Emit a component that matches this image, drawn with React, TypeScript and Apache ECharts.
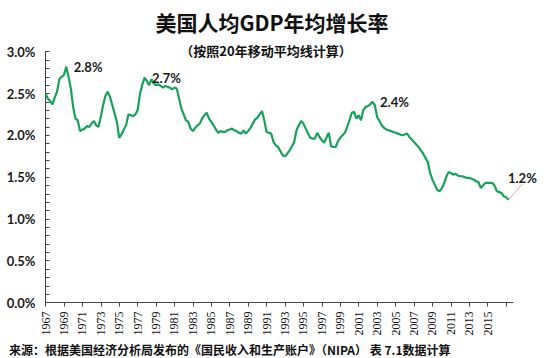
import React, { useEffect, useRef } from "react";
import * as echarts from "echarts";

// Quarterly categories 1967Q1 .. 2017Q4
const startYear = 1967;
const endYear = 2017;
const quarters: string[] = [];
for (let y = startYear; y <= endYear; y++) {
  for (let q = 1; q <= 4; q++) quarters.push(`${y}Q${q}`);
}

// 20-year moving average of per-capita GDP growth (%), quarterly, 1967Q1 .. 2017Q2
const growth: number[] = [
  2.50, 2.44, 2.41, 2.37, 2.45, 2.52, 2.67, 2.70, 2.72, 2.82,
  2.70, 2.56, 2.34, 2.20, 2.18, 2.05, 2.07, 2.08, 2.11, 2.10,
  2.14, 2.17, 2.12, 2.10, 2.22, 2.36, 2.47, 2.52, 2.46, 2.36,
  2.26, 2.16, 1.97, 2.01, 2.07, 2.12, 2.25, 2.24, 2.23, 2.25,
  2.30, 2.49, 2.60, 2.69, 2.65, 2.60, 2.67, 2.62, 2.60, 2.61,
  2.59, 2.57, 2.59, 2.58, 2.57, 2.55, 2.57, 2.56, 2.44, 2.32,
  2.25, 2.18, 2.16, 2.08, 2.05, 2.09, 2.12, 2.14, 2.20, 2.24,
  2.27, 2.20, 2.16, 2.12, 2.07, 2.03, 2.05, 2.04, 2.04, 2.06,
  2.07, 2.08, 2.06, 2.05, 2.03, 2.02, 2.06, 2.02, 2.05, 2.09,
  2.14, 2.19, 2.21, 2.25, 2.29, 2.18, 2.04, 2.03, 2.02, 1.92,
  1.88, 1.86, 1.81, 1.76, 1.75, 1.78, 1.82, 1.87, 1.92, 2.06,
  2.12, 2.17, 2.14, 2.08, 2.02, 1.97, 1.96, 1.96, 2.03, 1.98,
  1.94, 1.91, 1.97, 2.03, 1.87, 1.86, 1.86, 1.93, 1.97, 2.00,
  2.03, 2.10, 2.18, 2.27, 2.28, 2.20, 2.24, 2.18, 2.30, 2.34,
  2.35, 2.37, 2.40, 2.36, 2.22, 2.17, 2.12, 2.09, 2.07, 2.06,
  2.05, 2.04, 2.03, 2.02, 2.01, 2.00, 2.01, 2.02, 1.98, 1.95,
  1.92, 1.89, 1.86, 1.82, 1.78, 1.73, 1.68, 1.55, 1.47, 1.41,
  1.35, 1.33, 1.36, 1.42, 1.50, 1.56, 1.55, 1.53, 1.54, 1.52,
  1.51, 1.51, 1.50, 1.49, 1.49, 1.48, 1.47, 1.45, 1.44, 1.37,
  1.40, 1.43, 1.43, 1.43, 1.43, 1.40, 1.33, 1.32, 1.31, 1.27,
  1.26, 1.23,
];

// Annotated points: index into growth, label text
const annotationIndex: number[] = [9, 43, 142, 201];
const annotationText: string[] = ["2.8%", "2.7%", "2.4%", "1.2%"];

const yTicks = { min: 0, max: 3, interval: 0.5 };

const titleText = "美国人均GDP年均增长率";
const subtitleText = "（按照20年移动平均线计算）";
const sourceText = "来源：根据美国经济分析局发布的《国民收入和生产账户》（NIPA） 表 7.1数据计算";

const LINE_COLOR = "#17a25a";

export default function App() {
  const ref = useRef<HTMLDivElement>(null);

  useEffect(() => {
    if (!ref.current) return;
    const chart = echarts.init(ref.current, undefined, { renderer: "svg" });
    const lastIdx = growth.length - 1;

    const seriesData = growth.map((v, i) => {
      const k = annotationIndex.indexOf(i);
      if (k < 0) return v;
      const isLast = i === lastIdx;
      return {
        value: v,
        symbol: "circle",
        symbolSize: 1,
        itemStyle: { color: LINE_COLOR },
        label: {
          show: true,
          position: isLast ? "top" : "right",
          distance: isLast ? 5 : 7,
          formatter: annotationText[k],
          fontFamily: "Lato",
          fontWeight: "bold",
          fontSize: 13,
          color: "#1a1a1a",
        },
        labelLine: isLast
          ? { show: true, lineStyle: { color: "#e3a3b6", width: 1 } }
          : undefined,
      };
    });

    chart.setOption({
      animation: false,
      backgroundColor: "#ffffff",
      grid: { left: 45.5, right: 37, top: 51.7, bottom: 55.5, containLabel: false },
      xAxis: {
        type: "category",
        data: quarters,
        boundaryGap: false,
        axisLine: { show: true, lineStyle: { color: "#444", width: 1 } },
        axisTick: {
          show: true,
          length: 4,
          interval: (idx: number) => idx % 8 === 0,
          lineStyle: { color: "#444" },
        },
        axisLabel: {
          rotate: 90,
          margin: 9,
          interval: (idx: number) => idx % 8 === 0 && idx < 200,
          formatter: (v: string) => v.slice(0, 4),
          fontFamily: "Liberation Serif",
          fontSize: 12,
          color: "#111",
        },
        splitLine: { show: false },
      },
      yAxis: {
        type: "value",
        min: yTicks.min,
        max: yTicks.max,
        interval: yTicks.interval,
        axisLine: { show: true, lineStyle: { color: "#444", width: 1 } },
        axisTick: { show: true, inside: true, length: 4, lineStyle: { color: "#444" } },
        minorTick: { show: true, splitNumber: 5, length: 4, lineStyle: { color: "#444" } },
        splitLine: { show: false },
        axisLabel: {
          margin: 10,
          formatter: (v: number) => v.toFixed(1) + "%",
          fontFamily: "Lato",
          fontWeight: "bold",
          fontSize: 13,
          color: "#1a1a1a",
        },
      },
      series: [
        {
          type: "line",
          data: seriesData,
          symbol: "none",
          showSymbol: true,
          showAllSymbol: true,
          lineStyle: { color: LINE_COLOR, width: 2.2 },
          itemStyle: { color: LINE_COLOR },
          silent: true,
          labelLayout: (params: any) =>
            params.dataIndex === lastIdx ? { dx: 14, dy: -10 } : {},
        },
      ],
      graphic: [
        {
          type: "text",
          x: 272,
          y: 22,
          style: {
            text: titleText,
            align: "center",
            verticalAlign: "middle",
            textAlign: "center",
            textVerticalAlign: "middle",
            font: 'bold 21px "Noto Sans CJK SC"',
            fill: "#111",
          },
        },
        {
          type: "text",
          x: 266,
          y: 50,
          style: {
            text: subtitleText,
            align: "center",
            verticalAlign: "middle",
            textAlign: "center",
            textVerticalAlign: "middle",
            font: 'bold 13px "Noto Sans CJK SC"',
            fill: "#111",
          },
        },
        {
          type: "text",
          x: 9,
          y: 349,
          style: {
            text: sourceText,
            align: "left",
            verticalAlign: "middle",
            textAlign: "left",
            textVerticalAlign: "middle",
            font: 'bold 12px "Noto Sans CJK SC"',
            fill: "#111",
          },
        },
      ],
    });

    return () => chart.dispose();
  }, []);

  return (
    <div
      ref={ref}
      style={{ position: "fixed", left: 0, top: 0, width: 550, height: 358, background: "#fff" }}
    />
  );
}
